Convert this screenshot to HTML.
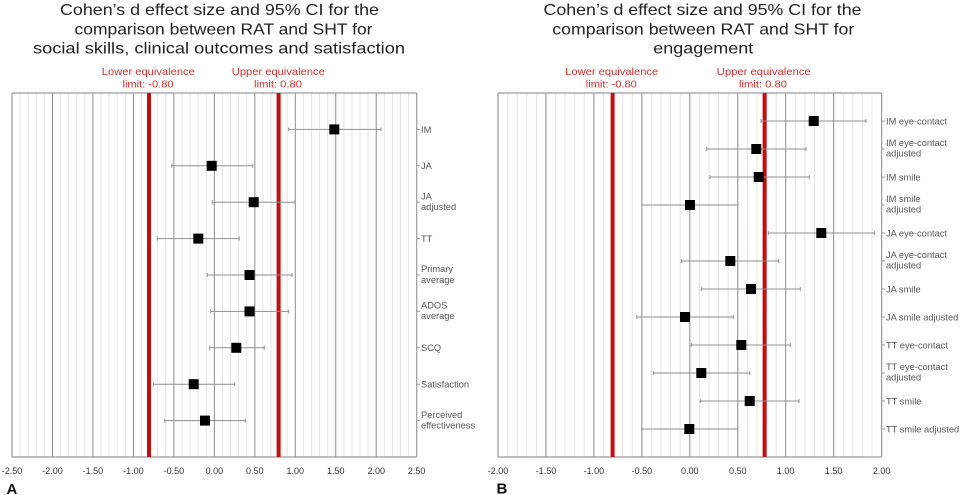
<!DOCTYPE html>
<html>
<head>
<meta charset="utf-8">
<style>
  html,body{margin:0;padding:0;background:#fff;}
  body{width:960px;height:495px;overflow:hidden;}
  svg{display:block;}
  .title{font-family:"Liberation Sans",sans-serif;font-size:16px;fill:#222;}
  .red{font-family:"Liberation Sans",sans-serif;font-size:10px;fill:#d42e2e;}
  .tick{font-family:"Liberation Sans",sans-serif;font-size:9px;fill:#333;text-anchor:middle;}
  .cat{font-family:"Liberation Sans",sans-serif;font-size:9.3px;fill:#555;}
  .panel{font-family:"Liberation Sans",sans-serif;font-size:15px;font-weight:bold;fill:#111;}
</style>
</head>
<body>
<svg width="960" height="495" viewBox="0 0 960 495" xmlns="http://www.w3.org/2000/svg">
<rect x="0" y="0" width="960" height="495" fill="#fff"/>

<!-- ================= LEFT PANEL (A) ================= -->
<text class="title" x="219.5" y="15" text-anchor="middle" textLength="319" lengthAdjust="spacingAndGlyphs">Cohen’s d effect size and 95% CI for the</text>
<text class="title" x="223.5" y="34.5" text-anchor="middle" textLength="298" lengthAdjust="spacingAndGlyphs">comparison between RAT and SHT for</text>
<text class="title" x="219" y="53.5" text-anchor="middle" textLength="372" lengthAdjust="spacingAndGlyphs">social skills, clinical outcomes and satisfaction</text>

<text class="red" x="148.3" y="75" text-anchor="middle" textLength="93" lengthAdjust="spacingAndGlyphs">Lower equivalence</text>
<text class="red" x="148" y="87.5" text-anchor="middle" textLength="51" lengthAdjust="spacingAndGlyphs">limit: -0.80</text>
<text class="red" x="278.3" y="75" text-anchor="middle" textLength="93" lengthAdjust="spacingAndGlyphs">Upper equivalence</text>
<text class="red" x="278" y="87.5" text-anchor="middle" textLength="48" lengthAdjust="spacingAndGlyphs">limit: 0.80</text>

<!-- minor gridlines -->
<path stroke="#e4e4e4" stroke-width="1" fill="none" d="
M20.09 93V457M28.19 93V457M36.28 93V457M44.38 93V457
M60.56 93V457M68.66 93V457M76.75 93V457M84.85 93V457
M101.03 93V457M109.13 93V457M117.22 93V457M125.32 93V457
M141.5 93V457M149.6 93V457M157.69 93V457M165.79 93V457
M181.97 93V457M190.07 93V457M198.16 93V457M206.26 93V457
M222.44 93V457M230.54 93V457M238.63 93V457M246.73 93V457
M262.91 93V457M271.01 93V457M279.1 93V457M287.2 93V457
M303.38 93V457M311.48 93V457M319.57 93V457M327.67 93V457
M343.85 93V457M351.95 93V457M360.04 93V457M368.14 93V457
M384.32 93V457M392.42 93V457M400.51 93V457M408.61 93V457"/>
<!-- major gridlines -->
<path stroke="#8c8c8c" stroke-width="1" fill="none" d="
M52.47 93V457M92.94 93V457M133.41 93V457M173.88 93V457M214.35 93V457
M254.82 93V457M295.29 93V457M335.76 93V457M376.23 93V457"/>
<!-- border -->
<path stroke="#9a9a9a" stroke-width="1.2" fill="none" d="M12 93H416.7M12 457H416.7M12 93V457M416.7 93V457"/>
<!-- y ticks -->
<path stroke="#9a9a9a" stroke-width="1" fill="none" d="
M416.7 129.4H420M416.7 165.8H420M416.7 202.2H420M416.7 238.6H420M416.7 275H420
M416.7 311.4H420M416.7 347.8H420M416.7 384.2H420M416.7 420.6H420"/>
<!-- red lines -->
<rect x="147" y="93" width="4" height="364" fill="#c20e0e"/>
<rect x="276.6" y="93" width="4" height="364" fill="#c20e0e"/>

<!-- error bars -->
<g stroke="#8f8f8f" stroke-width="1" fill="none">
<path d="M288.7 129.4H381M288.7 127.4V131.4M381 127.4V131.4"/>
<path d="M171.7 165.8H252.7M171.7 163.8V167.8M252.7 163.8V167.8"/>
<path d="M212.3 202.2H295M212.3 200.2V204.2M295 200.2V204.2"/>
<path d="M157.3 238.6H239.3M157.3 236.6V240.6M239.3 236.6V240.6"/>
<path d="M207.3 275H292M207.3 273V277M292 273V277"/>
<path d="M210.7 311.4H288.7M210.7 309.4V313.4M288.7 309.4V313.4"/>
<path d="M209.7 347.8H264.3M209.7 345.8V349.8M264.3 345.8V349.8"/>
<path d="M153.3 384.2H234.7M153.3 382.2V386.2M234.7 382.2V386.2"/>
<path d="M164.7 420.6H245.3M164.7 418.6V422.6M245.3 418.6V422.6"/>
</g>
<!-- squares -->
<g fill="#000">
<rect x="329.3" y="124.4" width="10" height="10"/>
<rect x="206.7" y="160.8" width="10" height="10"/>
<rect x="248.7" y="197.2" width="10" height="10"/>
<rect x="193.3" y="233.6" width="10" height="10"/>
<rect x="244.5" y="270" width="10" height="10"/>
<rect x="244.5" y="306.4" width="10" height="10"/>
<rect x="231.3" y="342.8" width="10" height="10"/>
<rect x="188.7" y="379.2" width="10" height="10"/>
<rect x="200" y="415.6" width="10" height="10"/>
</g>

<!-- category labels -->
<text class="cat" x="421" y="132.8">IM</text>
<text class="cat" x="421" y="169.2">JA</text>
<text class="cat" x="421" y="199.3">JA</text>
<text class="cat" x="421" y="210">adjusted</text>
<text class="cat" x="421" y="242">TT</text>
<text class="cat" x="421" y="272.1">Primary</text>
<text class="cat" x="421" y="282.8">average</text>
<text class="cat" x="421" y="308.5">ADOS</text>
<text class="cat" x="421" y="319.2">average</text>
<text class="cat" x="421" y="351.2">SCQ</text>
<text class="cat" x="421" y="387.6">Satisfaction</text>
<text class="cat" x="421" y="417.8">Perceived</text>
<text class="cat" x="421" y="428.6">effectiveness</text>

<!-- x tick labels -->
<text class="tick" x="12" y="474">-2.50</text>
<text class="tick" x="52.47" y="474">-2.00</text>
<text class="tick" x="92.94" y="474">-1.50</text>
<text class="tick" x="133.41" y="474">-1.00</text>
<text class="tick" x="173.88" y="474">-0.50</text>
<text class="tick" x="214.35" y="474">0.00</text>
<text class="tick" x="254.82" y="474">0.50</text>
<text class="tick" x="295.29" y="474">1.00</text>
<text class="tick" x="335.76" y="474">1.50</text>
<text class="tick" x="376.23" y="474">2.00</text>
<text class="tick" x="416.7" y="474">2.50</text>

<text class="panel" x="6.5" y="494">A</text>

<!-- ================= RIGHT PANEL (B) ================= -->
<text class="title" x="702.5" y="15" text-anchor="middle" textLength="318" lengthAdjust="spacingAndGlyphs">Cohen’s d effect size and 95% CI for the</text>
<text class="title" x="703.3" y="34.5" text-anchor="middle" textLength="302" lengthAdjust="spacingAndGlyphs">comparison between RAT and SHT for</text>
<text class="title" x="703.3" y="53.5" text-anchor="middle" textLength="100" lengthAdjust="spacingAndGlyphs">engagement</text>

<text class="red" x="611.7" y="75" text-anchor="middle" textLength="93" lengthAdjust="spacingAndGlyphs">Lower equivalence</text>
<text class="red" x="611.3" y="87.5" text-anchor="middle" textLength="51" lengthAdjust="spacingAndGlyphs">limit: -0.80</text>
<text class="red" x="763.7" y="75" text-anchor="middle" textLength="94" lengthAdjust="spacingAndGlyphs">Upper equivalence</text>
<text class="red" x="763" y="87.5" text-anchor="middle" textLength="48" lengthAdjust="spacingAndGlyphs">limit: 0.80</text>

<!-- minor gridlines -->
<path stroke="#e4e4e4" stroke-width="1" fill="none" d="
M507.59 93V457M517.18 93V457M526.77 93V457M536.36 93V457
M555.54 93V457M565.13 93V457M574.72 93V457M584.31 93V457
M603.49 93V457M613.08 93V457M622.67 93V457M632.26 93V457
M651.44 93V457M661.03 93V457M670.62 93V457M680.21 93V457
M699.39 93V457M708.98 93V457M718.57 93V457M728.16 93V457
M747.34 93V457M756.93 93V457M766.52 93V457M776.11 93V457
M795.29 93V457M804.88 93V457M814.47 93V457M824.06 93V457
M843.24 93V457M852.83 93V457M862.42 93V457M872.01 93V457"/>
<!-- major gridlines -->
<path stroke="#8c8c8c" stroke-width="1" fill="none" d="
M545.95 93V457M593.9 93V457M641.85 93V457M689.8 93V457
M737.75 93V457M785.7 93V457M833.65 93V457"/>
<!-- border -->
<path stroke="#9a9a9a" stroke-width="1.2" fill="none" d="M498 93H881.6M498 457H881.6M498 93V457M881.6 93V457"/>
<!-- y ticks -->
<path stroke="#9a9a9a" stroke-width="1" fill="none" d="
M881.6 121H885M881.6 149H885M881.6 177H885M881.6 205H885M881.6 233H885M881.6 261H885
M881.6 289H885M881.6 317H885M881.6 345H885M881.6 373H885M881.6 401H885M881.6 429H885"/>
<!-- red lines -->
<rect x="610.6" y="93" width="4" height="364" fill="#c20e0e"/>
<rect x="762.6" y="93" width="4" height="364" fill="#c20e0e"/>

<!-- error bars -->
<g stroke="#8f8f8f" stroke-width="1" fill="none">
<path d="M761 121H866M761 119V123M866 119V123"/>
<path d="M706.7 149H806M706.7 147V151M806 147V151"/>
<path d="M710 177H809.3M710 175V179M809.3 175V179"/>
<path d="M642 205H738M642 203V207M738 203V207"/>
<path d="M768.3 233H874.3M768.3 231V235M874.3 231V235"/>
<path d="M681.3 261H778.7M681.3 259V263M778.7 259V263"/>
<path d="M701.3 289H800.3M701.3 287V291M800.3 287V291"/>
<path d="M636.7 317H733.3M636.7 315V319M733.3 315V319"/>
<path d="M691.3 345H790.3M691.3 343V347M790.3 343V347"/>
<path d="M653.3 373H749.7M653.3 371V375M749.7 371V375"/>
<path d="M700.3 401H799M700.3 399V403M799 399V403"/>
<path d="M641.7 429H737.7M641.7 427V431M737.7 427V431"/>
</g>
<!-- squares -->
<g fill="#000">
<rect x="808.7" y="116" width="10" height="10"/>
<rect x="751.3" y="144" width="10" height="10"/>
<rect x="753.7" y="172" width="10" height="10"/>
<rect x="685" y="200" width="10" height="10"/>
<rect x="816.3" y="228" width="10" height="10"/>
<rect x="725.3" y="256" width="10" height="10"/>
<rect x="746" y="284" width="10" height="10"/>
<rect x="680" y="312" width="10" height="10"/>
<rect x="736.3" y="340" width="10" height="10"/>
<rect x="696.3" y="368" width="10" height="10"/>
<rect x="744.7" y="396" width="10" height="10"/>
<rect x="684.3" y="424" width="10" height="10"/>
</g>

<!-- category labels -->
<text class="cat" x="886" y="124.4">IM eye-contact</text>
<text class="cat" x="886" y="146">IM eye-contact</text>
<text class="cat" x="886" y="156.7">adjusted</text>
<text class="cat" x="886" y="180.4">IM smile</text>
<text class="cat" x="886" y="202">IM smile</text>
<text class="cat" x="886" y="212.7">adjusted</text>
<text class="cat" x="886" y="236.4">JA eye-contact</text>
<text class="cat" x="886" y="258">JA eye-contact</text>
<text class="cat" x="886" y="268.7">adjusted</text>
<text class="cat" x="886" y="292.4">JA smile</text>
<text class="cat" x="886" y="320.4">JA smile adjusted</text>
<text class="cat" x="886" y="348.4">TT eye-contact</text>
<text class="cat" x="886" y="370">TT eye-contact</text>
<text class="cat" x="886" y="380.7">adjusted</text>
<text class="cat" x="886" y="404.4">TT smile</text>
<text class="cat" x="886" y="432.4">TT smile adjusted</text>

<!-- x tick labels -->
<text class="tick" x="498" y="474">-2.00</text>
<text class="tick" x="545.95" y="474">-1.50</text>
<text class="tick" x="593.9" y="474">-1.00</text>
<text class="tick" x="641.85" y="474">-0.50</text>
<text class="tick" x="689.8" y="474">0.00</text>
<text class="tick" x="737.75" y="474">0.50</text>
<text class="tick" x="785.7" y="474">1.00</text>
<text class="tick" x="833.65" y="474">1.50</text>
<text class="tick" x="881.6" y="474">2.00</text>

<text class="panel" x="496.5" y="493.5">B</text>
</svg>
</body>
</html>
